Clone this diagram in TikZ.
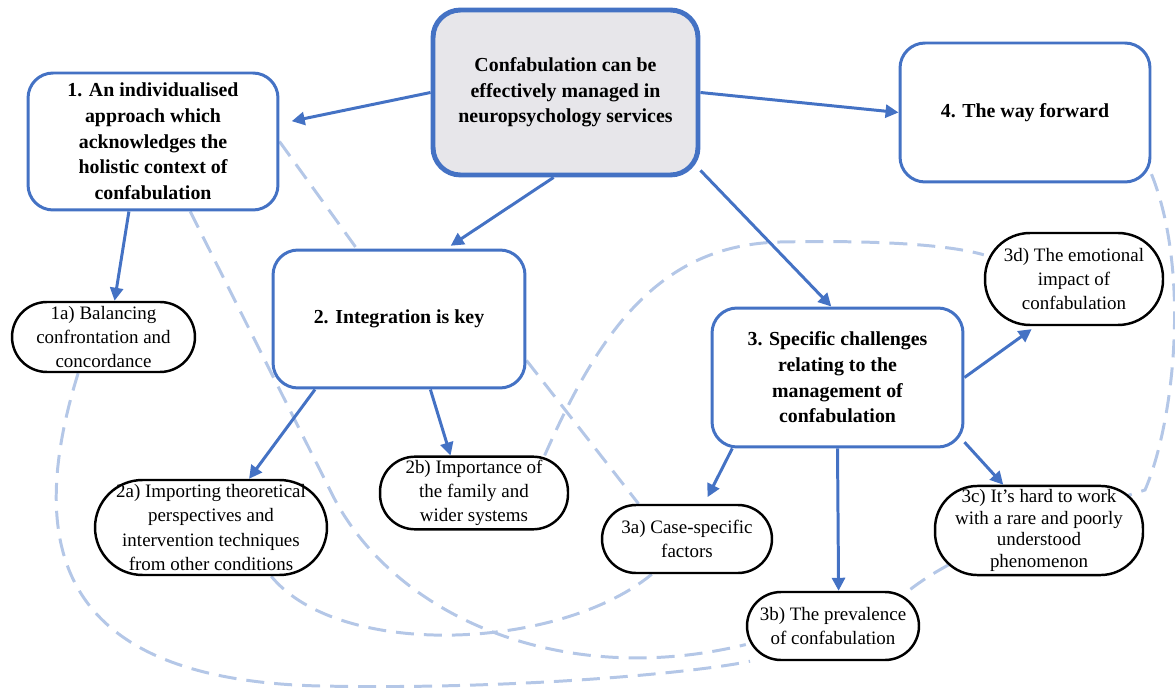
\documentclass[tikz,border=0pt]{standalone}
\usepackage{fontspec}
\setmainfont{Liberation Serif}
\usetikzlibrary{arrows.meta,backgrounds}
\definecolor{boxblue}{RGB}{68,114,196}
\definecolor{linkblue}{RGB}{180,199,231}
\definecolor{maingray}{RGB}{231,230,234}
\tikzset{
  theme/.style={draw=boxblue, line width=1.7pt, rounded corners=0.5cm, fill=white,
    align=center, font=\fontsize{11.3}{14.6}\selectfont\bfseries},
  subtheme/.style={draw=black, line width=1.4pt, rounded corners=#1, fill=white,
    align=center, inner sep=2pt, font=\fontsize{10.8}{13.7}\selectfont},
  subtheme/.default=0.68cm,
  link/.style={-{Triangle[length=0.26cm,width=0.26cm]}, boxblue, line width=1.7pt},
  crosslink/.style={linkblue, line width=1.7pt, dash pattern=on 0.36cm off 0.2cm},
}
\begin{document}
\begin{tikzpicture}[x=0.02cm,y=-0.02cm]
\useasboundingbox (0,0) rectangle (1175,688);
% main themes
\node[theme, line width=2.8pt, fill=maingray, rounded corners=0.55cm,
  minimum width=5.3cm, minimum height=3.3cm] (main) at (565.5,92.5)
  {Confabulation can be\\effectively managed in\\neuropsychology services};
\node[theme, minimum width=5cm, minimum height=2.74cm] (n1) at (153,141.5)
  {1. An individualised\\approach which\\acknowledges the\\holistic context of\\confabulation};
\node[theme, minimum width=5cm, minimum height=2.78cm] (n4) at (1025,112.5) {4. The way forward};
\node[theme, minimum width=5.04cm, minimum height=2.76cm] (n2) at (399,319) {2. Integration is key};
\node[theme, minimum width=5.02cm, minimum height=2.78cm] (n3) at (837.5,377.5)
  {3. Specific challenges\\relating to the\\management of\\confabulation};
% subthemes
\node[subtheme=0.7cm, minimum width=3.66cm, minimum height=1.4cm] (a1) at (103.5,337)
  {1a) Balancing\\confrontation and\\concordance};
\node[subtheme=0.95cm, minimum width=4.64cm, minimum height=1.9cm] (a2) at (211,527.5)
  {2a) Importing theoretical\\perspectives and\\intervention techniques\\from other conditions};
\node[subtheme=0.7cm, minimum width=3.76cm, minimum height=1.4cm] (b2) at (474,493)
  {2b) Importance of\\the family and\\wider systems};
\node[subtheme, minimum width=3.4cm, minimum height=1.36cm] (a3) at (687,539)
  {3a) Case-specific\\factors};
\node[subtheme, minimum width=3.44cm, minimum height=1.36cm] (b3) at (833,626)
  {3b) The prevalence\\of confabulation};
\node[subtheme=0.85cm, minimum width=4.16cm, minimum height=1.7cm,
  font=\fontsize{10.8}{12.3}\selectfont] (c3) at (1039,530.5)
  {3c) It’s hard to work\\with a rare and poorly\\understood\\phenomenon};
\node[subtheme=0.9cm, minimum width=3.56cm, minimum height=1.84cm] (d3) at (1074,279)
  {3d) The emotional\\impact of\\confabulation};
% links between themes (behind the boxes)
\begin{pgfonlayer}{background}
\draw[crosslink] (n1.east) -- (n2.121);
\draw[crosslink] (n2.-18) -- (a3.144);
\draw[crosslink] (n1.-62) -- (330,490) .. controls (390,615) and (560,690) .. (b3.192);
\draw[crosslink] (a1.235) .. controls (20,560) and (70,680) .. (320,686)
  .. controls (520,690) and (700,672) .. (b3.203);
\draw[crosslink] (a2.-39) .. controls (340,660) and (560,650) .. (a3.225);
\draw[crosslink] (b2.28) .. controls (600,330) and (660,245) .. (780,242)
  .. controls (880,240) and (950,245) .. (d3.165);
\draw[crosslink] (n4.-26) .. controls (1190,270) and (1175,420) .. (1145,490)
  .. controls (1050,520) and (960,550) .. (b3.25);
\end{pgfonlayer}
% arrows
\draw[link, shorten >=0.25cm] (main.west) -- (n1.8);
\draw[link] (main.east) -- (n4.west);
\draw[link, shorten >=0.1cm] (main.262) -- (n2.56);
\draw[link] (main.-30) -- (n3.95);
\draw[link] (n1.251) -- (a1.73);
\draw[link] (n2.220) -- (a2.52);
\draw[link] (n2.294) -- (b2.122);
\draw[link, shorten >=0.15cm] (n3.214) -- (a3.64);
\draw[link] (n3.south) -- (b3.81);
\draw[link] (n3.-27) -- (c3.128);
\draw[link, shorten >=0.1cm] (n3.east) -- (d3.231);
\end{tikzpicture}
\end{document}
